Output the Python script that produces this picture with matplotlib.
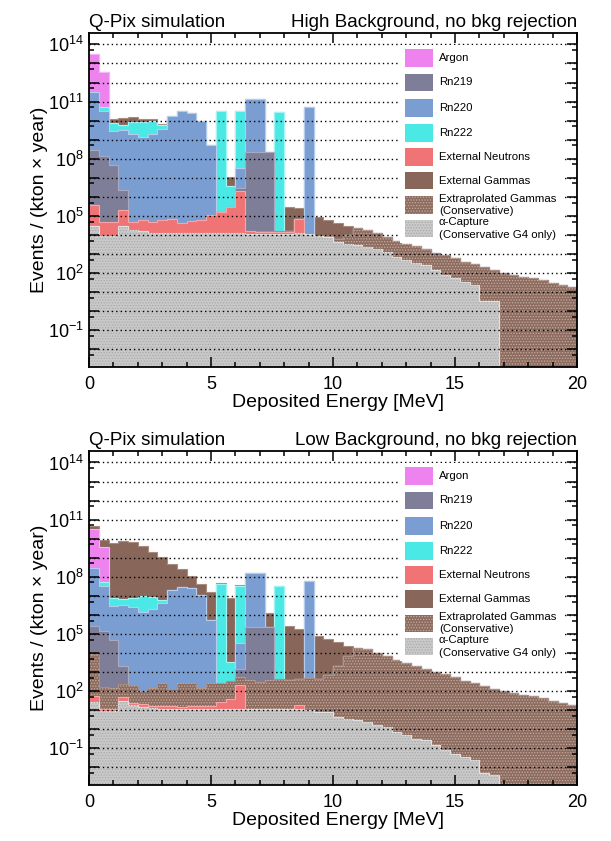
import numpy as np
import matplotlib
matplotlib.use("Agg")
import matplotlib.pyplot as plt
from matplotlib.patches import Rectangle
from matplotlib.ticker import FixedLocator, FuncFormatter, MultipleLocator, NullFormatter

N = None

# 50 bins of 0.4 MeV from 0 to 20 MeV
edges = np.linspace(0, 20, 51)

# log10(events / (kton x year)) per bin, None = empty bin
# shared by both panels
ext_gammas = [10.1, 9.68, 9.76, 9.89, 9.85, 9.59, 9.32, 9.06, 8.63, 8.35,
              7.90, 7.46, 7.20, 6.95, 6.89, 6.5, 6.3, 6.2, 6.04, 5.7,
              5.42, 5.27, 5.05, 4.88, 4.74, 4.54, 4.25, N, N, N,
              N, N, N, N, N, N, N, N, N, N,
              N, N, N, N, N, N, N, N, N, N]
extrap_gammas = [3.95, 2.19, 2.11, 2.28, 2.28, 1.93, 2.11, 2.37, 2.02, 2.37,
                 2.37, 2.11, 2.37, 2.37, 2.46, 2.54, 2.54, 2.46, 2.54, 2.63,
                 2.54, 2.63, 2.65, 2.6, 2.86, 3.33, 3.82, 4.28, 4.2, 4.02,
                 3.82, 3.63, 3.46, 3.34, 3.17, 3.0, 2.88, 2.72, 2.55, 2.42,
                 2.28, 2.13, 2.01, 1.91, 1.81, 1.72, 1.62, 1.48, 1.37, 1.27]

# high background
argon_hi = [13.51, 12.56] + [N] * 48
rn219_hi = [8.44, 8.14, 7.66, 6.34, N, N, N, N, N, N,
            N, N, N, N, N, 5.97, 8.33, 8.33, 8.33, N] + [N] * 30
rn220_hi = [11.48, 10.51, 9.46, 9.51, 9.32, 9.14, 9.32, 9.58, 10.25, 10.48,
            10.39, 9.99, 8.72, N, N, 7.48, 11.16, 11.16, N, N,
            N, N, 10.73, N, N, N, N, N, N, N] + [N] * 20
rn222_hi = [N, 10.35, 9.62, 9.40, 9.77, 9.88, 9.89, 9.32, N, N,
            N, N, N, 10.51, 6.51, 10.51, N, N, N, 10.46] + [N] * 30
neutrons_hi = [5.55, 4.62, 4.62, 5.25, 4.49, 4.66, 4.57, 4.69, 4.76, 4.46,
               4.63, 4.69, 5.01, 5.14, 5.42, 6.28, 3.55, 3.5, 3.5, 3.5,
               3.5, 4.75] + [N] * 28
alpha_hi = [4.45, 3.93, 3.93, 4.49, 4.28, 4.19, 4.12, 4.10, 4.10, 4.08,
            4.10, 4.10, 4.08, 4.10, 4.10, 4.10, 4.07, 4.07, 4.07, 4.07,
            4.07, 4.10, 4.02, 3.93, 3.89, 3.61, 3.54, 3.49, 3.37, 3.28,
            3.12, 2.84, 2.68, 2.51, 2.42, 2.16, 1.89, 1.72, 1.54, 1.37,
            0.55, 0.55, N, N, N, N, N, N, N, N]

# low background
argon_lo = [10.50, 9.58] + [N] * 48
rn219_lo = [5.39, 5.13, 4.66, 3.29, N, N, N, N, N, N,
            N, N, N, N, N, 2.92, 5.36, 5.36, 5.36, N] + [N] * 30
rn220_lo = [8.48, 7.53, 6.47, 6.54, 6.42, 6.15, 6.33, 6.60, 7.30, 7.48,
            7.42, 7.03, 5.71, N, N, 4.53, 8.21, 8.21, N, N,
            N, N, 7.77, N, N, N, N, N, N, N] + [N] * 20
rn222_lo = [N, 7.32, 6.63, 6.48, 6.74, 6.91, 6.83, 6.28, N, N,
            N, N, N, 7.60, 3.48, 7.53, N, N, N, 7.53] + [N] * 30
neutrons_lo = [1.49, 0.5, 0.5, 1.26, 0.85, 0.8, 0.6, 0.6, 0.65, 0.55,
               0.6, 0.6, 0.75, 1.18, 1.45, 2.30, -0.5, -0.5, -0.5, -0.5,
               -0.5, 0.85] + [N] * 28
alpha_lo = [1.42, 0.93, 0.95, 1.48, 1.25, 1.16, 1.10, 1.08, 1.08, 1.06,
            1.08, 1.08, 1.06, 1.08, 1.08, 1.08, 1.05, 1.05, 1.05, 1.05,
            1.05, 1.08, 0.98, 0.92, 0.88, 0.65, 0.53, 0.49, 0.36, 0.22,
            0.10, -0.17, -0.32, -0.50, -0.58, -0.86, -1.10, -1.30, -1.46, -1.62,
            -2.30, -2.40, N, N, N, N, N, N, N, N]

# stacking order, bottom to top: (face, outline, hatch, hatch colour)
styles = [
    ("#c9c9c9", "#e2e2e2", "......", "#a9a9a9"),   # alpha capture
    ("#f07476", "#f6a6a7", None, None),            # external neutrons
    ("#8d6c5f", "#a88c80", "......", "#c3aca2"),   # extrapolated gammas
    ("#7e7e99", "#a9a9c0", None, None),            # Rn219
    ("#7a9ed2", "#b4cdef", None, None),            # Rn220
    ("#4be9e6", "#a2f5f2", None, None),            # Rn222
    ("#ee82ee", "#f5b5f5", None, None),            # Argon
    ("#88665a", "#a88c80", None, None),            # external gammas
]

legend_items = [
    ("Argon", 6), ("Rn219", 3), ("Rn220", 4), ("Rn222", 5),
    ("External Neutrons", 1), ("External Gammas", 7),
    ("Extraprolated Gammas\n(Conservative)", 2),
    ("\u03b1-Capture\n(Conservative G4 only)", 0),
]

plt.rcParams["font.family"] = ["Liberation Sans", "DejaVu Sans"]
plt.rcParams["mathtext.fontset"] = "custom"
plt.rcParams["mathtext.rm"] = "Liberation Sans"
plt.rcParams["mathtext.it"] = "Liberation Sans:italic"
plt.rcParams["hatch.linewidth"] = 0.6

floor = 1e-6


def lin(vals):
    return np.array([0.0 if v is None else 10.0 ** v for v in vals])


def yfmt(y, pos):
    e = int(round(np.log10(y)))
    if e % 3 == 2:
        return "$10^{%d}$" % e
    return ""


def draw_panel(ax, layers, right_title):
    cum = np.cumsum([lin(v) for v in layers], axis=0)
    cum = np.maximum(cum, floor)
    # ROOT-like: draw summed histograms from the top one down
    for i in reversed(range(len(cum))):
        fc, ec, hatch, hc = styles[i]
        ax.stairs(cum[i], edges, baseline=floor, fill=True,
                  facecolor=fc, edgecolor=ec, linewidth=0.8, zorder=1)
        if hatch:
            ax.stairs(cum[i], edges, baseline=floor, fill=True,
                      facecolor="none", edgecolor=hc, hatch=hatch,
                      linewidth=0, zorder=1)

    ax.set_yscale("log")
    ax.set_xlim(0, 20)
    ax.set_ylim(1.2e-3, 4e14)

    ax.yaxis.set_major_locator(FixedLocator([10.0 ** k for k in range(-3, 15)]))
    ax.yaxis.set_minor_locator(FixedLocator([5 * 10.0 ** k for k in range(-3, 15)]))
    ax.yaxis.set_major_formatter(FuncFormatter(yfmt))
    ax.yaxis.set_minor_formatter(NullFormatter())
    ax.xaxis.set_major_locator(MultipleLocator(5))
    ax.xaxis.set_minor_locator(MultipleLocator(1))

    ax.tick_params(which="both", direction="in", top=True, right=True,
                   width=1.1, labelsize=13)
    ax.tick_params(which="major", length=7)
    ax.tick_params(which="minor", length=3.6)
    ax.tick_params(axis="x", pad=7)
    ax.tick_params(axis="y", pad=4)
    for s in ax.spines.values():
        s.set_linewidth(1.3)

    ax.set_axisbelow(False)
    ax.yaxis.grid(True, which="major", color="black",
                  linestyle=(0, (1, 2.2)), linewidth=1.0)

    ax.set_xlabel("Deposited Energy [MeV]", fontsize=14)
    ax.set_ylabel("Events / (kton \u00d7 year)", fontsize=14)
    ax.xaxis.set_label_coords(0.51, -0.081)
    ax.yaxis.set_label_coords(-0.085, 0.5)

    ax.text(0, 1.018, "Q-Pix simulation", transform=ax.transAxes,
            fontsize=13.5, ha="left", va="baseline")
    ax.text(1, 1.018, right_title, transform=ax.transAxes,
            fontsize=13.5, ha="right", va="baseline")

    # legend
    ax.add_patch(Rectangle((0.637, 0.371), 0.334, 0.594, transform=ax.transAxes,
                           facecolor="white", edgecolor="none", zorder=4))
    row_y = [0.925, 0.852, 0.775, 0.700, 0.628, 0.557, 0.484, 0.414]
    for (label, idx), yc in zip(legend_items, row_y):
        fc, ec, hatch, hc = styles[idx]
        ax.add_patch(Rectangle((0.6475, yc - 0.026), 0.057, 0.052,
                               transform=ax.transAxes, facecolor=fc,
                               edgecolor="none", zorder=5))
        if hatch:
            ax.add_patch(Rectangle((0.6475, yc - 0.026), 0.057, 0.052,
                                   transform=ax.transAxes, facecolor="none",
                                   edgecolor=hc, hatch=hatch, linewidth=0,
                                   zorder=5))
        ax.text(0.717, yc, label, transform=ax.transAxes, fontsize=8.2,
                ha="left", va="center", linespacing=1.3, zorder=6)


fig = plt.figure(figsize=(6.11, 8.41), dpi=100)
ax1 = fig.add_axes([0.1457, 0.5640, 0.7987, 0.3968])
ax2 = fig.add_axes([0.1457, 0.0669, 0.7987, 0.3968])

draw_panel(ax1, [alpha_hi, neutrons_hi, extrap_gammas, rn219_hi, rn220_hi,
                 rn222_hi, argon_hi, ext_gammas],
           "High Background, no bkg rejection")
draw_panel(ax2, [alpha_lo, neutrons_lo, extrap_gammas, rn219_lo, rn220_lo,
                 rn222_lo, argon_lo, ext_gammas],
           "Low Background, no bkg rejection")

fig.savefig("out.png", dpi=100)
